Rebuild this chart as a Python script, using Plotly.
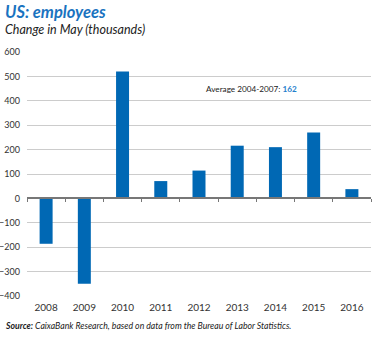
import plotly.graph_objects as go

years = ["2008", "2009", "2010", "2011", "2012", "2013", "2014", "2015", "2016"]
changes = [-186, -350, 520, 71, 114, 216, 210, 270, 38]
y_ticks = [600, 500, 400, 300, 200, 100, 0, -100, -200, -300, -400]
avg_label = "Average 2004-2007: "
avg_value = 162

FONT = "Lato"
BLUE = "#0068b4"
LIGHT_BLUE = "#1f80cc"
y_min, y_max = -400, 600

fig = go.Figure()
fig.add_trace(go.Bar(
    x=years, y=changes, marker_color=BLUE,
    marker_line_width=0, width=0.34, showlegend=False, hoverinfo="x+y"))

# invisible trace anchoring the zero-line axis
fig.add_trace(go.Scatter(x=[-0.5, len(years) - 0.5], y=[0, 0], xaxis="x2",
                         mode="lines", line=dict(width=0), showlegend=False,
                         hoverinfo="skip"))

zero_pos = (0 - y_min) / (y_max - y_min)

fig.update_layout(
    width=381, height=338,
    margin=dict(l=27, r=10, t=52, b=42, autoexpand=False),
    paper_bgcolor="white", plot_bgcolor="white",
    font=dict(family=FONT, color="#333333", size=9),
    xaxis=dict(type="category", categoryarray=years, range=[-0.5, len(years) - 0.5],
               showgrid=False, zeroline=False, showline=False, ticks="", automargin=False,
               tickfont=dict(size=10, color="#333333"), ticklabelstandoff=4),
    xaxis2=dict(overlaying="x", anchor="free", position=zero_pos, side="bottom",
                range=[-0.5, len(years) - 0.5], automargin=False,
                tickvals=[i - 0.5 for i in range(len(years) + 1)],
                ticks="outside", ticklen=3, tickwidth=1, tickcolor="#777777",
                showticklabels=False, showgrid=False, zeroline=False,
                showline=True, linecolor="#777777", linewidth=1.5),
    yaxis=dict(range=[y_min, y_max], tickvals=y_ticks, showgrid=True, automargin=False,
               gridcolor="#cccccc", gridwidth=1, zeroline=False, showline=False,
               ticks="", tickfont=dict(size=9, color="#333333"), ticklabelstandoff=6),
    bargap=0.66,
)

fig.add_annotation(
    text="<i><b>US: employees</b></i>", xref="paper", yref="paper",
    x=0, y=1, xshift=-24, yshift=40, xanchor="left", yanchor="middle",
    showarrow=False, font=dict(size=16.5, color="#1a73c0", family=FONT))
fig.add_annotation(
    text="<i>Change in May (thousands)</i>", xref="paper", yref="paper",
    x=0, y=1, xshift=-24, yshift=23, xanchor="left", yanchor="middle",
    showarrow=False, font=dict(size=12.5, color="#222222", family=FONT))
fig.add_annotation(
    text=avg_label + f"<b><span style='color:{LIGHT_BLUE}'>{avg_value}</span></b>",
    xref="x", yref="y", x=4.13, y=447, xanchor="left", yanchor="middle",
    showarrow=False, font=dict(size=8.2, color="#222222", family=FONT))
fig.add_annotation(
    text="<i><b>Source:</b> CaixaBank Research, based on data from the Bureau of Labor Statistics.</i>",
    xref="paper", yref="paper", x=0, y=0, xshift=-24, yshift=-29,
    xanchor="left", yanchor="middle", showarrow=False,
    font=dict(size=8.7, color="#222222", family=FONT))

fig.write_html("out.html")
